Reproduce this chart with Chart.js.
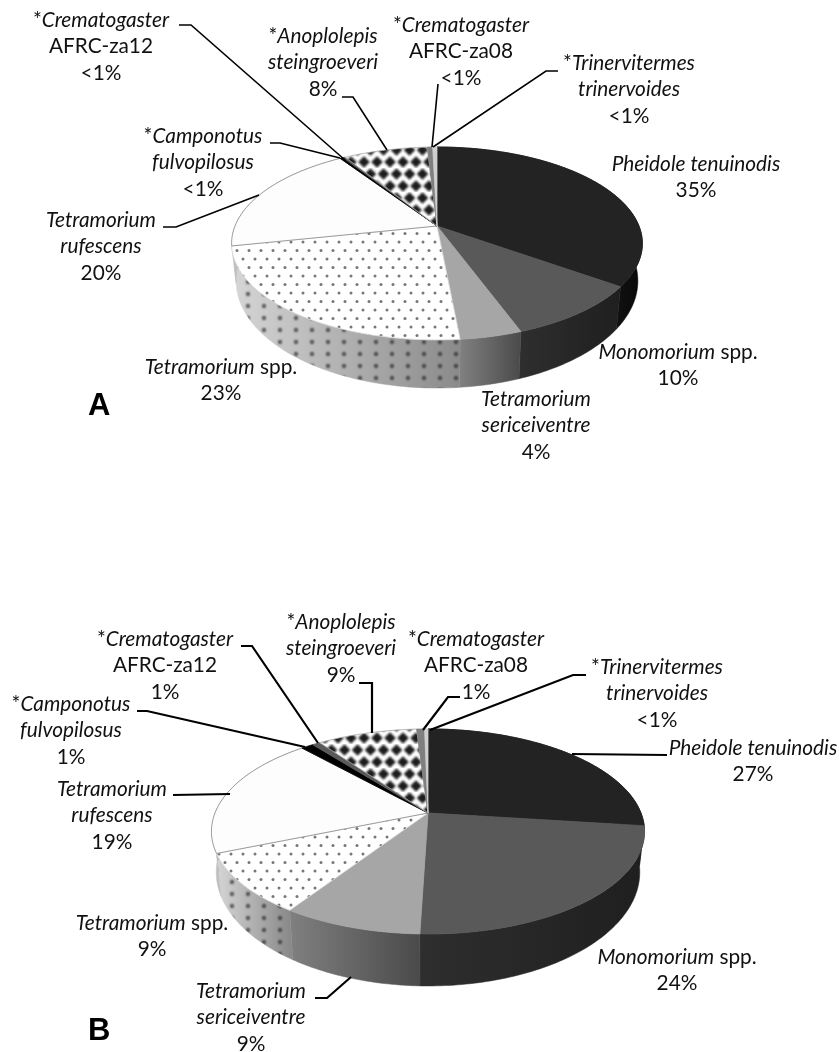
<!DOCTYPE html>
<html><head><meta charset="utf-8">
<script src="https://cdn.jsdelivr.net/npm/chart.js@4"></script>
<style>html,body{margin:0;padding:0;background:#fff}canvas{position:absolute;left:0}</style>
</head><body>
<canvas id="a" width="839" height="520" style="top:0"></canvas>
<canvas id="b" width="839" height="532" style="top:520px"></canvas>
<script>
const categories=["Pheidole tenuinodis","Monomorium spp.","Tetramorium sericeiventre","Tetramorium spp.","Tetramorium rufescens","*Camponotus fulvopilosus","*Crematogaster AFRC-za12","*Anoplolepis steingroeveri","*Crematogaster AFRC-za08","*Trinervitermes trinervoides"];
const valuesA=[34.9,9.5,4.1,23.2,19.0,0.3,0.2,7.9,0.5,0.4];
const valuesB=[27,23.5,8.8,9.5,19.5,1.1,0.7,8.9,0.7,0.3];
const percentA=["35%","10%","4%","23%","20%","<1%","<1%","8%","<1%","<1%"];
const percentB=["27%","24%","9%","9%","19%","1%","1%","9%","1%","<1%"];
// label line breaks; _x_ marks italics
const nameLines=[["_Pheidole tenuinodis_"],["_Monomorium_ spp."],["_Tetramorium_","_sericeiventre_"],["_Tetramorium_ spp."],["_Tetramorium_","_rufescens_"],["*_Camponotus_","_fulvopilosus_"],["*_Crematogaster_","AFRC-za12"],["*_Anoplolepis_","_steingroeveri_"],["*_Crematogaster_","AFRC-za08"],["*_Trinervitermes_","_trinervoides_"]];

function tile(w,h,paint){const c=document.createElement('canvas');c.width=w;c.height=h;const x=c.getContext('2d');paint(x);return c.getContext('2d').createPattern(c,'repeat');}
function dot(x,cx,cy,r,col){x.fillStyle=col;x.beginPath();x.arc(cx,cy,r,0,7);x.fill();}
const dotsTop=tile(12,17,x=>{x.fillStyle='#fff';x.fillRect(0,0,12,17);x.filter='blur(0.6px)';[[3,4],[9,12.5]].forEach(p=>dot(x,p[0],p[1],1.5,'#777'));});
const dotsSide=tile(16,12,x=>{x.filter='blur(0.9px)';dot(x,8,6,1.9,'rgba(30,30,30,.85)');});
const checker=tile(13,24,x=>{x.fillStyle='#fff';x.fillRect(0,0,13,24);x.filter='blur(1.1px)';x.fillStyle='#1c1c1c';
  [[6.5,6],[0,18],[13,18]].forEach(p=>{x.beginPath();x.moveTo(p[0],p[1]-5.8);x.lineTo(p[0]+5.8,p[1]);x.lineTo(p[0],p[1]+5.8);x.lineTo(p[0]-5.8,p[1]);x.closePath();x.fill();});});
const topFills=['#232323','#595959','#a6a6a6',dotsTop,'#fdfdfd','#000000','#595959',checker,'#7f7f7f','#cfcfcf'];
const edgeColors=['#232323','#595959','#a6a6a6','#d8d8d8','#858585','#000','#595959','#aaa','#7f7f7f','#cfcfcf'];
const sideShade=[['#101010','#080808'],['#2e2e2e','#1f1f1f'],['#808080','#4a4a4a'],['#d6d6d6','#8a8a8a'],['#e0e0e0','#c0c0c0'],['#111','#111'],['#444','#444'],['#aaa','#aaa'],['#666','#666'],['#aaa','#aaa']];

const geomA={pivotX:437,pivotY:226,R:202,b:93.3,k:0.181,scaleX:0.978,frontY:339,depth:48,depthSlope:0.11,offsetY:0,line:1.6,gap:26.5};
const geomB={pivotX:428,pivotY:813,R:213,b:99.2,k:0.18,scaleX:0.978,frontY:934,depth:52,depthSlope:0.11,offsetY:520,line:2.2,gap:26.5};
const labelsA=[[696,164],[678,352],[536,399],[221,367],[101,220],[203,136],[101,20],[323,36],[461,25],[629,63]];
const labelsB=[[753,748],[677,957],[251,991],[152,923],[112,789],[71,704],[165,639],[341,622],[476,639],[657,667]];
const leadersA=[[[163,227],[176,227],[259,195]],[[270,143],[280,143],[340,158]],[[179,25],[191,25],[345,160]],[[342,97],[353,97],[387,150]],[[438,84],[432,147]],[[433,147],[546,71],[558,71]]];
const leadersB=[[[572,754],[667,755]],[[173,795],[230,794]],[[315,998],[327,998],[351,977]],[[137,711],[147,711],[305,747]],[[241,646],[252,646],[318,743]],[[359,683],[372,683],[372,733]],[[460,697],[448,697],[423,730]],[[430,730],[573,675],[586,675]]];
const panelMarks=[['A',88,415],['B',88,1040]];

const pie3d={id:'pie3d',
 beforeDatasetsDraw(chart,args,opts){
  const g=opts.geom,ctx=chart.ctx,arcs=chart.getDatasetMeta(0).data;
  const rim=t=>{const u=Math.sin(t),v=-Math.cos(t),w=1-g.k*v;return [g.pivotX+g.R*u/w,g.pivotY+g.b*v/w];};
  const low=p=>[g.pivotX+(p[0]-g.pivotX)*g.scaleX,p[1]+g.depth-g.depthSlope*(g.frontY-p[1])];
  const path=(a,fn)=>{const n=Math.max(2,Math.ceil((a.e-a.s)*60));const r=[];for(let i=0;i<=n;i++)r.push(fn(a.s+(a.e-a.s)*i/n));return r;};
  const pieces=arcs.map((el,i)=>({s:el.startAngle+Math.PI/2,e:el.endAngle+Math.PI/2,fill:el.options.backgroundColor,edge:el.options.borderColor,i}));
  ctx.save();ctx.translate(0,-g.offsetY);
  pieces.forEach(a=>{
    const top=path(a,rim),bot=top.map(low).reverse();
    const xs=top.filter(p=>p[1]>g.pivotY).map(p=>p[0]);if(!xs.length)return;
    const x0=Math.min(...xs),x1=Math.max(...xs),gr=ctx.createLinearGradient(x0,0,Math.max(x1,x0+1),0);
    gr.addColorStop(0,opts.shade[a.i][0]);gr.addColorStop(1,opts.shade[a.i][1]);
    ctx.beginPath();top.concat(bot).forEach((p,j)=>j?ctx.lineTo(p[0],p[1]):ctx.moveTo(p[0],p[1]));ctx.closePath();
    ctx.fillStyle=gr;ctx.fill();ctx.strokeStyle=gr;ctx.lineWidth=.5;ctx.stroke();
    if(a.i===3){ctx.fillStyle=dotsSide;ctx.fill();}
  });
  pieces.forEach(a=>{
    const pts=path(a,rim);
    ctx.beginPath();ctx.moveTo(g.pivotX,g.pivotY);pts.forEach(p=>ctx.lineTo(p[0],p[1]));ctx.closePath();
    ctx.fillStyle=a.fill;ctx.fill();ctx.strokeStyle=a.edge;ctx.lineWidth=.8;ctx.stroke();
  });
  ctx.restore();
  return false;
 },
 afterDraw(chart,args,opts){
  const g=opts.geom,ctx=chart.ctx;
  ctx.save();ctx.translate(0,-g.offsetY);
  ctx.strokeStyle='#000';ctx.lineWidth=g.line;ctx.lineJoin='miter';
  opts.leaders.forEach(l=>{ctx.beginPath();l.forEach((p,j)=>j?ctx.lineTo(p[0],p[1]):ctx.moveTo(p[0],p[1]));ctx.stroke();});
  ctx.fillStyle='#111';ctx.textBaseline='middle';ctx.textAlign='left';
  const F=i=>(i?'italic ':'')+'20.8px Lato';
  opts.labels.forEach((pos,i)=>{
    nameLines[i].concat(opts.percent[i]).forEach((line,n)=>{
      const runs=line.split('_').map((t,k)=>({t,it:k%2===1})).filter(r=>r.t);
      let w=0;runs.forEach(r=>{ctx.font=F(r.it);w+=ctx.measureText(r.t).width;});
      let x=pos[0]-w/2;const y=pos[1]+n*g.gap;
      runs.forEach(r=>{ctx.font=F(r.it);ctx.fillText(r.t,x,y);x+=ctx.measureText(r.t).width;});
    });
  });
  const m=opts.mark;ctx.font='bold 31px "Liberation Sans"';ctx.textBaseline='alphabetic';ctx.fillStyle='#000';ctx.fillText(m[0],m[1],m[2]);
  ctx.restore();
 }};

function make(id,values,geom,labels,leaders,percent,mark){
 return new Chart(document.getElementById(id),{type:'pie',
  data:{labels:categories,datasets:[{data:values,backgroundColor:topFills,borderColor:edgeColors,borderWidth:0}]},
  options:{responsive:false,animation:false,devicePixelRatio:1,events:[],
   plugins:{legend:{display:false},tooltip:{enabled:false},pie3d:{geom,labels,leaders,percent,mark,shade:sideShade}}},
  plugins:[pie3d]});
}
make('a',valuesA,geomA,labelsA,leadersA,percentA,panelMarks[0]);
make('b',valuesB,geomB,labelsB,leadersB,percentB,panelMarks[1]);
</script>
</body></html>
